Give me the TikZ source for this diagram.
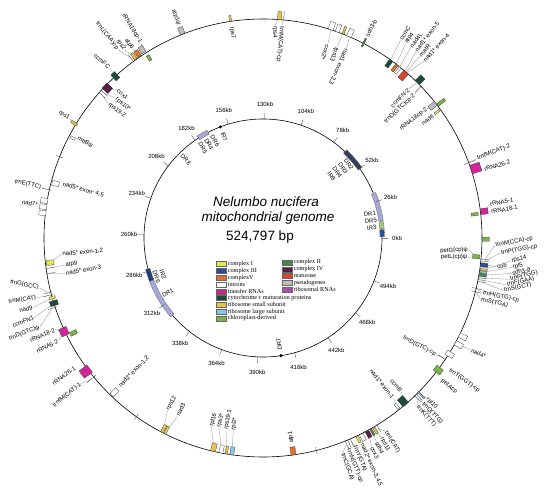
\documentclass[tikz,border=0pt]{standalone}
\usepackage{fontspec}
\setmainfont{Liberation Sans}
\newfontfamily\legendfont{Liberation Serif}
\usetikzlibrary{positioning}

\definecolor{cI}{HTML}{E8E84A}
\definecolor{cII}{HTML}{3F8A46}
\definecolor{cIII}{HTML}{2B4C9B}
\definecolor{cIV}{HTML}{5A1E48}
\definecolor{cV}{HTML}{E2702E}
\definecolor{mat}{HTML}{D4472F}
\definecolor{pseudo}{HTML}{BEBEBE}
\definecolor{trna}{HTML}{C9268C}
\definecolor{rrna}{HTML}{A452A8}
\definecolor{rbox}{HTML}{D3249A}
\definecolor{ccm}{HTML}{1F4A3B}
\definecolor{ssu}{HTML}{E9C24A}
\definecolor{lsu}{HTML}{8CC7E6}
\definecolor{cpd}{HTML}{7BB547}
\definecolor{lav}{HTML}{A8A8D8}
\definecolor{slate}{HTML}{2E3E5C}

\newcommand\genefont{\fontsize{6}{7}\selectfont}
\newcommand\kbfont{\fontsize{6}{6}\selectfont}

\begin{document}
\begin{tikzpicture}[
    x=1pt, y=1pt,
    gene/.style={draw=black!75, line width=0.3pt, inner sep=0pt, outer sep=0pt, minimum width=8pt, minimum height=4pt},
    tickmark/.style={draw=black!75, line width=0.35pt, inner sep=0pt, outer sep=0pt, minimum width=9pt, minimum height=0pt},
    glabel/.style={font=\genefont, inner sep=0.6pt},
    lead/.style={draw=black!45, line width=0.3pt},
    kb/.style={font=\kbfont, inner sep=0pt},
    swatch/.style={draw=black!60, line width=0.3pt, minimum width=10pt, minimum height=5pt, inner sep=0pt},
    legtext/.style={font=\legendfont\fontsize{6.2}{6.2}\selectfont, inner sep=0pt}
]
\useasboundingbox (-263,-262) rectangle (282,238);

% CIRCLES
\draw[line width=0.6pt] (0,0) circle[radius=219];
\draw[line width=0.6pt] (0,0) circle[radius=119];

% TITLE
\node[font=\fontsize{13.5}{13.5}\selectfont\itshape] (title1) at (3,36) {Nelumbo nucifera};
\node[font=\fontsize{13.5}{13.5}\selectfont\itshape] (title2) at (5,20) {mitochondrial genome};
\node[font=\fontsize{13.5}{13.5}\selectfont] (size) at (-3,1) {524,797 bp};

% GENES - TOP
\node[gene, fill=pseudo, minimum width=7pt, minimum height=5pt, rotate=111.5] (atp1psi) at (111.5:223) {};
\node[gene, fill=ssu, minimum width=6pt, minimum height=2pt, rotate=98.5] (rps7) at (98.5:222) {};
\node[gene, fill=ssu, rotate=85.7] (rps4) at (85.7:223) {};
\node[tickmark, rotate=84.6] (trnMcp) at (84.6:223) {};
\node[gene, fill=white, minimum height=5pt, rotate=72] (cox2) at (72:223) {};
\node[gene, fill=white, rotate=70.2] (cox2b) at (70.2:223) {};
\node[gene, fill=ssu, minimum height=2pt, rotate=68.6] (rps13) at (68.6:223) {};
\node[gene, fill=white, minimum height=5pt, rotate=66.9] (nad1b) at (66.9:223) {};
\node[gene, fill=cII, minimum width=9pt, minimum height=1.5pt, rotate=62.7] (sdh3b) at (62.7:220) {};
\node[gene, fill=ccm, rotate=54.2] (ccmC) at (54.2:215) {};
\node[gene, fill=cV, minimum height=3pt, rotate=52.3] (atp4) at (52.3:215) {};
\node[gene, fill=white, minimum height=2.5pt, rotate=51.2] (nad4L) at (51.2:215) {};
\node[gene, fill=mat, minimum width=9pt, minimum height=6pt, rotate=49.2] (matR) at (49.2:214.5) {};
\node[gene, fill=ccm, minimum height=6pt, rotate=45.2] (ccmFN2) at (45.2:223) {};
\node[tickmark, rotate=43.8] (trnDcp2) at (43.8:215) {};
\node[gene, fill=pseudo, minimum height=5pt, rotate=37.9] (rrn18cp2) at (37.9:215) {};
\node[gene, fill=cpd, minimum width=9pt, minimum height=3pt, rotate=37.3] (cpA) at (37.3:224) {};
\node[gene, fill=cI, minimum width=6pt, minimum height=2pt, rotate=35.9] (nad6) at (35.9:215) {};

\node[glabel, anchor=east, rotate=-68.5] (atp1psiL) at (111.5:228) {atp1ψ};
\node[glabel, anchor=west, rotate=-81.5] (rps7L) at (98.5:214) {rps7};
\node[glabel, anchor=west, rotate=-93.3] (rps4L) at (86.7:213) {rps4};
\node[glabel, anchor=west, rotate=-95.1] (trnMcpL) at (84.9:213) {trnM(CAT)-cp};
\node[glabel, anchor=west, rotate=251.5] (cox2L) at (71.5:204) {cox2*};
\node[glabel, anchor=west, rotate=248.8] (rps13L) at (68.8:205) {rps13};
\node[glabel, anchor=west, rotate=246.2] (nad1bL) at (66.2:207) {nad1 exon-2,3};
\node[glabel, anchor=west, rotate=62.7] (sdh3bL) at (62.7:226) {sdh3-b};
\node[glabel, anchor=west, rotate=57] (ccmCL) at (55.2:241) {ccmC};
\node[glabel, anchor=west, rotate=55] (atp4L) at (53.7:241) {atp4};
\node[glabel, anchor=west, rotate=54] (nad4LL) at (52.2:241) {nad4L};
\node[glabel, anchor=west, rotate=52] (nad1e5L) at (50.7:241) {nad1* exon-5};
\node[glabel, anchor=west, rotate=50] (matRL) at (49.2:240) {matR};
\node[glabel, anchor=west, rotate=48] (nad1e4L) at (47.7:239) {nad1* exon-4};
\node[glabel, anchor=east, rotate=45.5] (ccmFN2L) at (45.6:209) {ccmFN-2};
\node[glabel, anchor=east, rotate=43.2] (trnDcp2L) at (43.4:209) {trnD(GTC)cp-2};
\node[glabel, anchor=east, rotate=38] (rrn18cp2L) at (38.2:209) {rRNA18cp-2};
\node[glabel, anchor=east, rotate=35.6] (nad6L) at (35.6:210) {nad6};

% GENES - RIGHT
\node[tickmark, minimum width=12pt, rotate=20.1] (trnfM2) at (20.1:220) {};
\node[gene, fill=rbox, minimum width=10pt, minimum height=9pt, rotate=18.2] (rrn26b) at (18.2:224) {};
\node[gene, fill=rbox, minimum width=7pt, minimum height=6pt, rotate=6.9] (rrn5a) at (6.9:223) {};
\node[gene, fill=cpd, minimum width=7pt, minimum height=3pt, rotate=6.4] (cpB) at (6.4:213) {};
\node[gene, fill=cpd, minimum width=7pt, rotate=-0.3] (cpC) at (-0.3:223) {};
\node[gene, fill=cpd, minimum width=7pt, rotate=-5] (petG) at (-5:214) {};
\node[tickmark, rotate=-5.5] (trnW) at (-5.5:223) {};
\node[tickmark, rotate=-6.0] (trnPcp) at (-6.0:223) {};
\node[gene, fill=cIII, minimum width=7pt, rotate=-7.0] (cob) at (-7.0:223) {};
\node[gene, fill=ssu, minimum width=7pt, minimum height=2pt, rotate=-8.2] (rps14) at (-8.2:223) {};
\node[gene, fill=lsu, minimum width=7pt, minimum height=2pt, rotate=-8.8] (rpl5) at (-8.8:223) {};
\node[gene, fill=cII, minimum width=7pt, minimum height=3pt, rotate=-9.6] (sdh3a) at (-9.6:223) {};
\node[tickmark, rotate=-10.4] (trnP) at (-10.4:223) {};
\node[tickmark, rotate=-10.9] (trnF) at (-10.9:223) {};
\node[tickmark, rotate=-11.4] (trnSgct) at (-11.4:223) {};
\node[tickmark, minimum width=10pt, rotate=-13.3] (trnH) at (-13.3:220) {};
\node[tickmark, minimum width=10pt, rotate=-14.2] (trnStga) at (-14.2:220) {};
\node[gene, fill=white, minimum height=5pt, rotate=-26.3] (nad4a) at (-26.3:223) {};
\node[gene, fill=white, minimum height=5pt, rotate=-28.6] (nad4b) at (-28.6:223) {};
\node[gene, fill=white, minimum height=5pt, rotate=-31.9] (nad4c) at (-31.9:220) {};
\node[tickmark, rotate=-33.7] (trnDcp) at (-33.7:215) {};
\node[gene, fill=cpd, minimum height=6pt, rotate=-37] (trnTcp) at (-37:219.5) {};
\node[gene, fill=lsu, minimum width=9pt, minimum height=1.5pt, rotate=-44.8] (rpl10) at (-44.8:223) {};
\node[tickmark, rotate=-45.5] (trnQ) at (-45.5:223) {};
\node[tickmark, rotate=-46.1] (trnK) at (-46.1:223) {};
\node[gene, fill=ccm, minimum width=9pt, minimum height=7pt, rotate=-49.4] (ccmB) at (-49.4:215) {};
\node[gene, fill=white, minimum width=6pt, minimum height=2.5pt, rotate=-51.5] (nad1a) at (-51.5:215) {};

\node[glabel, anchor=west, rotate=20.2] (trnfM2L) at (20.4:228) {trnfM(CAT)-2};
\node[glabel, anchor=west, rotate=17.4] (rrn26bL) at (17.2:231) {rRNA26-2};
\node[glabel, anchor=west, rotate=12] (rrn5aL) at (8.4:229) {rRNA5-1};
\node[glabel, anchor=west, rotate=10] (rrn18aL) at (6.5:229) {rRNA18-1};
\node[glabel, anchor=east, rotate=2] (petGL) at (-3.3:206) {petG(cp)ψ};
\node[glabel, anchor=east, rotate=0] (petLL) at (-5.4:206) {petL(cp)ψ};
\node[glabel, anchor=west, rotate=10] (trnWL) at (-1.8:232) {trnW(CCA)-cp};
\node[glabel, anchor=west, rotate=10] (trnPcpL) at (-3.6:238) {trnP(TGG)-cp};
\node[glabel, anchor=west, rotate=5] (cobL) at (-6.9:235) {cob};
\node[glabel, anchor=west, rotate=13] (rps14L) at (-5.3:249) {rps14};
\node[glabel, anchor=west, rotate=13] (rpl5L) at (-6.7:251) {rpl5};
\node[glabel, anchor=west, rotate=13] (sdh3aL) at (-8.1:251) {sdh3-a};
\node[glabel, anchor=west, rotate=13] (trnPL) at (-9.5:250) {trnP(TGG)};
\node[glabel, anchor=west, rotate=12] (trnFL) at (-10.9:248) {trnF(GAA)};
\node[glabel, anchor=west, rotate=11] (trnSgctL) at (-12.3:246) {trnS(GCT)};
\node[glabel, anchor=west, rotate=-12] (trnHL) at (-14.0:226) {trnH(GTG)-cp};
\node[glabel, anchor=west, rotate=-13] (trnStgaL) at (-15.8:226) {trnS(TGA)};
\node[glabel, anchor=west, rotate=-25] (nad4sL) at (-28.3:236) {nad4*};
\node[glabel, anchor=east, rotate=-28] (trnDcpL) at (-34:209) {trnD(GTC)-cp};
\node[glabel, anchor=west, rotate=-35] (trnTcpL) at (-35.3:228) {trnT(GGT)-cp};
\node[glabel, anchor=west, rotate=-38] (petAL) at (-38.6:228) {petAcp};
\node[glabel, anchor=west, rotate=-47] (rpl10L) at (-44.3:229) {rpl10};
\node[glabel, anchor=west, rotate=-47] (trnQL) at (-45.9:229) {trnQ(TTG)};
\node[glabel, anchor=west, rotate=-48] (trnKL) at (-47.5:228) {trnK(TTT)};
\node[glabel, anchor=east, rotate=-50] (ccmBL) at (-48:207) {ccmB};
\node[glabel, anchor=east, rotate=-52] (nad1aL) at (-50.9:207) {nad1* exon-1};

% GENES - BOTTOM
\node[tickmark, rotate=-58.7] (trnI) at (-58.7:223) {};
\node[gene, fill=ssu, minimum width=7pt, minimum height=2.5pt, rotate=-59.7] (rps11) at (-59.7:223) {};
\node[gene, fill=cII, minimum width=7pt, minimum height=2pt, rotate=-60.6] (sdh4) at (-60.6:223) {};
\node[gene, fill=cIV, minimum width=7pt, minimum height=4pt, rotate=-61.7] (cox3) at (-61.7:223) {};
\node[gene, fill=white, minimum width=7pt, minimum height=4pt, rotate=-63.4] (nad2b) at (-63.4:223) {};
\node[gene, fill=cI, minimum width=7pt, minimum height=2.5pt, rotate=-64.6] (nad2c) at (-64.6:223) {};
\node[tickmark, rotate=-66.5] (trnY) at (-66.5:223) {};
\node[tickmark, rotate=-67.2] (trnNcp) at (-67.2:223) {};
\node[tickmark, rotate=-67.9] (trnC) at (-67.9:223) {};
\node[tickmark, minimum width=7pt, rotate=-75.9] (mark1) at (-75.9:219) {};
\node[gene, fill=cV, minimum height=5pt, rotate=-82] (atp1) at (-82:215) {};
\node[gene, fill=lsu, minimum height=4pt, rotate=-98.2] (rpl2) at (-98.2:215) {};
\node[gene, fill=ssu, minimum height=2.5pt, rotate=-99.7] (rps19a) at (-99.7:215) {};
\node[gene, fill=white, minimum height=4pt, rotate=-101.1] (rps3) at (-101.1:215) {};
\node[gene, fill=ssu, minimum height=5pt, rotate=-103.2] (rpl16) at (-103.2:215) {};
\node[gene, fill=ssu, minimum height=3pt, rotate=-117.5] (rps12) at (-117.5:215) {};
\node[gene, fill=cI, minimum height=2pt, rotate=-116.6] (nad3) at (-116.6:215) {};
\node[tickmark, minimum width=7pt, rotate=-125.3] (mark2) at (-125.3:219) {};
\node[gene, fill=white, minimum height=5pt, rotate=-133.9] (nad2a) at (-133.9:214) {};

\node[glabel, anchor=west, rotate=-59] (trnIL) at (-57.6:229) {trnI(CAT)};
\node[glabel, anchor=west, rotate=-62] (rps11L) at (-59.3:232) {rps11};
\node[glabel, anchor=west, rotate=-63] (sdh4L) at (-60.9:233) {sdh4};
\node[glabel, anchor=west, rotate=-64] (cox3L) at (-62.5:235) {cox3};
\node[glabel, anchor=west, rotate=-66] (nad2bL) at (-64.3:228) {nad2* exon-3,4,5};
\node[glabel, anchor=west, rotate=-68] (trnYL) at (-66.1:227) {trnY(GTA)};
\node[glabel, anchor=west, rotate=-69] (trnNL) at (-67.9:227) {trnN(GTT)-cp};
\node[glabel, anchor=west, rotate=-70] (trnCL) at (-69.7:229) {trnC(GCA)};
\node[glabel, anchor=west, rotate=98] (atp1L) at (-82:208) {atp1};
\node[glabel, anchor=west, rotate=74.7] (rpl16L) at (-105.3:196) {rpl16};
\node[glabel, anchor=west, rotate=76.9] (rps3L) at (-103.1:195) {rps3*};
\node[glabel, anchor=west, rotate=79.1] (rps19aL) at (-100.9:196) {rps19-1};
\node[glabel, anchor=west, rotate=81.2] (rpl2L) at (-98.8:195) {rpl2*};
\node[glabel, anchor=west, rotate=61] (rps12L) at (-119:197) {rps12};
\node[glabel, anchor=west, rotate=64.4] (nad3L) at (-115.6:198) {nad3};
\node[glabel, anchor=west, rotate=46] (nad2aL) at (-134:207) {nad2* exon-1,2};

% GENES - LEFT
\node[gene, fill=rbox, minimum width=10pt, minimum height=9pt, rotate=-143] (rrn26a) at (-143:222) {};
\node[tickmark, minimum width=12pt, rotate=-140.6] (trnfM1) at (-140.6:222) {};
\node[gene, fill=rbox, minimum width=8pt, minimum height=8pt, rotate=-154.8] (rrn18b) at (-154.8:220) {};
\node[gene, fill=cpd, minimum width=7pt, minimum height=4pt, rotate=-153.4] (cpD) at (-153.4:212) {};
\node[tickmark, rotate=-161.6] (trnDpsi) at (-161.6:222) {};
\node[gene, fill=ccm, minimum height=5pt, rotate=-162.7] (ccmFN1) at (-162.7:219) {};
\node[gene, fill=cI, minimum width=6pt, minimum height=2.5pt, rotate=-164.2] (nad9) at (-164.2:219) {};
\node[tickmark, rotate=-165] (trnMcat) at (-165:222) {};
\node[tickmark, rotate=-165.7] (trnG) at (-165.7:222) {};
\node[tickmark, rotate=-170.6] (nad5c) at (-170.6:215) {};
\node[tickmark, rotate=-172] (atp9) at (-172:215) {};
\node[gene, fill=cI, minimum width=7pt, minimum height=5pt, rotate=-173.4] (nad5a) at (-173.4:214.5) {};
\node[gene, fill=white, minimum width=7pt, minimum height=5pt, rotate=173.5] (nad7a) at (173.5:222) {};
\node[gene, fill=white, minimum width=7pt, minimum height=5pt, rotate=171.9] (nad7b) at (171.9:222) {};
\node[gene, fill=white, minimum width=7pt, minimum height=5pt, rotate=170.3] (nad7c) at (170.3:222) {};
\node[tickmark, rotate=167.3] (trnE) at (167.3:222) {};
\node[gene, fill=white, minimum width=7pt, minimum height=5pt, rotate=165.3] (nad5b) at (165.3:214.5) {};
\node[tickmark, minimum width=7pt, rotate=158.2] (mark3) at (158.2:219) {};
\node[gene, fill=white, minimum width=5pt, minimum height=2.5pt, rotate=152.3] (mttB) at (152.3:215) {};
\node[gene, fill=ssu, minimum width=7pt, minimum height=2.5pt, rotate=148.7] (rps1) at (148.7:221) {};
\node[tickmark, rotate=138.4] (rps192) at (138.4:215) {};
\node[tickmark, rotate=137.6] (rps10) at (137.6:215) {};
\node[gene, fill=cIV, minimum height=7pt, rotate=136.1] (cox1) at (136.1:216) {};
\node[gene, fill=ccm, minimum height=5pt, rotate=132.4] (ccmFC) at (132.4:219) {};
\node[gene, fill=cpd, minimum width=6pt, minimum height=3pt, rotate=122.3] (cpE) at (122.3:213) {};
\node[gene, fill=pseudo, minimum width=7pt, minimum height=5pt, rotate=122.7] (rrn18cp1) at (122.7:224) {};
\node[gene, fill=cV, minimum width=7pt, minimum height=4pt, rotate=124.2] (atp6) at (124.2:223) {};
\node[gene, fill=ssu, minimum width=7pt, minimum height=3pt, rotate=125.4] (rps2) at (125.4:223) {};
\node[tickmark, rotate=126.3] (trnLcp) at (126.3:223) {};

\node[glabel, anchor=east, rotate=35] (rrn26aL) at (-145.3:228) {rRNA26-1};
\node[glabel, anchor=east, rotate=39] (trnfM1L) at (-141.3:233) {trnfM(CAT)-1};
\node[glabel, anchor=east, rotate=24] (rrn18bL) at (-156.2:227) {rRNA18-2};
\node[glabel, anchor=east, rotate=27] (rrn5bL) at (-153.3:229) {rRNA5-2};
\node[glabel, anchor=east, rotate=22] (trnDpsiL) at (-158.3:240) {trnD(GTC)ψ};
\node[glabel, anchor=east, rotate=19] (ccmFN1L) at (-160.8:242) {ccmFN1};
\node[glabel, anchor=east, rotate=12] (nad9L) at (-163.2:240) {nad9};
\node[glabel, anchor=east, rotate=8] (trnMcatL) at (-165.2:234) {trnM(CAT)};
\node[glabel, anchor=east, rotate=-12] (trnGL) at (-167.4:229) {trnG(GCC)};
\node[glabel, anchor=west, rotate=10] (nad5cL) at (-169.9:201) {nad5* exon-3};
\node[glabel, anchor=west, rotate=8] (atp9L) at (-172.2:200) {atp9};
\node[glabel, anchor=west, rotate=5] (nad5aL) at (-175.4:202) {nad5* exon-1,2};
\node[glabel, anchor=east, rotate=-9] (nad7L) at (171.6:227) {nad7*};
\node[glabel, anchor=east, rotate=-13] (trnEL) at (167.2:227) {trnE(TTC)};
\node[glabel, anchor=west, rotate=-15] (nad5bL) at (165:208) {nad5* exon- 4,5};
\node[glabel, anchor=west, rotate=-28] (mttBL) at (151.8:211) {mttBψ};
\node[glabel, anchor=east, rotate=-32] (rps1L) at (148.3:227) {rps1};
\node[glabel, anchor=west, rotate=-40] (cox1L) at (134.6:208) {cox1};
\node[glabel, anchor=west, rotate=-40] (rps10L) at (136.5:203) {rps10*};
\node[glabel, anchor=west, rotate=-38] (rps192L) at (139:205) {rps19-2};
\node[glabel, anchor=east, rotate=-40] (ccmFCL) at (132:229) {ccmFC};
\node[glabel, anchor=east, rotate=-52.4] (trnLcpL) at (127.6:238) {trnL(CAA)cp};
\node[glabel, anchor=east, rotate=-53.7] (rps2L) at (126.3:233) {rps2};
\node[glabel, anchor=east, rotate=-55.4] (atp6L) at (124.6:229) {atp6};
\node[glabel, anchor=east, rotate=-58] (rrn18cp1L) at (122:230) {rRNA18cp-1};

% LEADERS
\draw[lead] (rps4) -- (rps4L.west);
\draw[lead] (trnMcp) -- (trnMcpL.west);
\draw[lead] (cox2) -- (cox2L.west);
\draw[lead] (rps13) -- (rps13L.west);
\draw[lead] (nad1b) -- (nad1bL.west);
\draw[lead] (ccmC) -- (ccmCL.west);
\draw[lead] (atp4) -- (atp4L.west);
\draw[lead] (nad4L) -- (nad4LL.west);
\draw[lead] (matR) -- (nad1e5L.west);
\draw[lead] (matR) -- (matRL.west);
\draw[lead] (matR) -- (nad1e4L.west);
\draw[lead] (ccmFN2) -- (ccmFN2L.east);
\draw[lead] (trnDcp2) -- (trnDcp2L.east);
\draw[lead] (rrn18cp2) -- (rrn18cp2L.east);
\draw[lead] (nad6) -- (nad6L.east);
\draw[lead] (trnfM2) -- (trnfM2L.west);
\draw[lead] (rrn5a) -- (rrn5aL.west);
\draw[lead] (rrn5a) -- (rrn18aL.west);
\draw[lead] (petG) -- (petGL.east);
\draw[lead] (petG) -- (petLL.east);
\draw[lead] (trnW) -- (trnWL.west);
\draw[lead] (trnPcp) -- (trnPcpL.west);
\draw[lead] (cob) -- (cobL.west);
\draw[lead] (rps14) -- (rps14L.west);
\draw[lead] (rpl5) -- (rpl5L.west);
\draw[lead] (sdh3a) -- (sdh3aL.west);
\draw[lead] (trnP) -- (trnPL.west);
\draw[lead] (trnF) -- (trnFL.west);
\draw[lead] (trnSgct) -- (trnSgctL.west);
\draw[lead] (trnH) -- (trnHL.west);
\draw[lead] (trnStga) -- (trnStgaL.west);
\draw[lead] (nad4b) -- (nad4sL.west);
\draw[lead] (trnDcp) -- (trnDcpL.east);
\draw[lead] (rpl10) -- (rpl10L.west);
\draw[lead] (trnQ) -- (trnQL.west);
\draw[lead] (trnK) -- (trnKL.west);
\draw[lead] (ccmB) -- (ccmBL.east);
\draw[lead] (nad1a) -- (nad1aL.east);
\draw[lead] (trnI) -- (trnIL.west);
\draw[lead] (rps11) -- (rps11L.west);
\draw[lead] (sdh4) -- (sdh4L.west);
\draw[lead] (cox3) -- (cox3L.west);
\draw[lead] (nad2b) -- (nad2bL.west);
\draw[lead] (trnY) -- (trnYL.west);
\draw[lead] (trnNcp) -- (trnNL.west);
\draw[lead] (trnC) -- (trnCL.west);
\draw[lead] (rpl16) -- (rpl16L.west);
\draw[lead] (rps3) -- (rps3L.west);
\draw[lead] (rps19a) -- (rps19aL.west);
\draw[lead] (rpl2) -- (rpl2L.west);
\draw[lead] (rps12) -- (rps12L.west);
\draw[lead] (nad3) -- (nad3L.west);
\draw[lead] (trnfM1) -- (trnfM1L.east);
\draw[lead] (rrn18b) -- (rrn18bL.east);
\draw[lead] (rrn18b) -- (rrn5bL.east);
\draw[lead] (trnDpsi) -- (trnDpsiL.east);
\draw[lead] (ccmFN1) -- (ccmFN1L.east);
\draw[lead] (nad9) -- (nad9L.east);
\draw[lead] (trnMcat) -- (trnMcatL.east);
\draw[lead] (trnG) -- (trnGL.east);
\draw[lead] (nad5c) -- (nad5cL.west);
\draw[lead] (atp9) -- (atp9L.west);
\draw[lead] (nad5a) -- (nad5aL.west);
\draw[lead] (nad7b) -- (nad7L.east);
\draw[lead] (trnE) -- (trnEL.east);
\draw[lead] (mttB) -- (mttBL.west);
\draw[lead] (rps1) -- (rps1L.east);
\draw[lead] (cox1) -- (cox1L.west);
\draw[lead] (rps10) -- (rps10L.west);
\draw[lead] (rps192) -- (rps192L.west);
\draw[lead] (ccmFC) -- (ccmFCL.east);
\draw[lead] (trnLcp) -- (trnLcpL.east);
\draw[lead] (rps2) -- (rps2L.east);
\draw[lead] (atp6) -- (atp6L.east);
\draw[lead] (rrn18cp1) -- (rrn18cp1L.east);

% INNER CIRCLE: REPEATS
\filldraw[fill=cIII, draw=black!60, line width=0.3pt] (0.6:117) arc[start angle=0.6, end angle=4, radius=117] -- (4:121.5) arc[start angle=4, end angle=0.6, radius=121.5] -- cycle;
\filldraw[fill=cpd!70, draw=black!60, line width=0.3pt] (4.4:117) arc[start angle=4.4, end angle=7.8, radius=117] -- (7.8:121.5) arc[start angle=7.8, end angle=4.4, radius=121.5] -- cycle;
\filldraw[fill=lav, draw=black!60, line width=0.3pt] (8.3:117) arc[start angle=8.3, end angle=22, radius=117] -- (22:121.5) arc[start angle=22, end angle=8.3, radius=121.5] -- cycle;
\filldraw[fill=slate, draw=black!60, line width=0.3pt] (35.5:117) arc[start angle=35.5, end angle=46.5, radius=117] -- (46.5:121.5) arc[start angle=46.5, end angle=35.5, radius=121.5] -- cycle;
\filldraw[fill=lav, draw=black!60, line width=0.3pt] (117.5:117) arc[start angle=117.5, end angle=122.8, radius=117] -- (122.8:121.5) arc[start angle=122.8, end angle=117.5, radius=121.5] -- cycle;
\filldraw[fill=cIII!80!black, draw=black!60, line width=0.3pt] (195:117) arc[start angle=195, end angle=201, radius=117] -- (201:121.5) arc[start angle=201, end angle=195, radius=121.5] -- cycle;
\filldraw[fill=lav, draw=black!60, line width=0.3pt] (201:117) arc[start angle=201, end angle=220.5, radius=117] -- (220.5:121.5) arc[start angle=220.5, end angle=201, radius=121.5] -- cycle;
\fill (111:119) circle[radius=1.7];
\fill (278.7:119) circle[radius=1.7];

\node[glabel, align=center, anchor=east, rotate=8] (ir3L) at (9:116) {DR1\\DR5\\IR3};
\node[glabel, align=center, anchor=north, rotate=-55] (dr2L) at (40.5:116) {DR2\\DR3\\DR4\\IR8};
\node[glabel, align=left, anchor=west, rotate=-60] (dr6L) at (120:115) {DR6\\DR4\\DR5};
\node[glabel, anchor=west, rotate=-69] (ir7L) at (111:114) {IR7};
\node[glabel, rotate=-45] (dr8L) at (134.6:110) {DR8};
\node[glabel, align=center, rotate=-70] (ir2L) at (200:110) {IR2\\DR6};
\node[glabel, rotate=30] (dr1L) at (210:110) {DR1};
\node[glabel, anchor=west, rotate=98.7] (dr7L) at (278.7:114) {DR7};

% INNER CIRCLE: SCALE
\foreach \k [evaluate=\k as \ang using \k*0.685979] in {0,26,...,494} {
  \node[tickmark, minimum width=6pt, rotate=\ang] (t\k) at (\ang:122) {};
  \node[kb] (kb\k) at (\ang:134) {\k kb};
}

% LEGEND
\node[swatch, fill=cI] (s1) at (-42,-26) {};
\node[swatch, fill=cIII, below=1.5pt of s1] (s2) {};
\node[swatch, fill=cV, below=1.5pt of s2] (s3) {};
\node[swatch, fill=white, below=1.5pt of s3] (s4) {};
\node[swatch, fill=trna, below=1.5pt of s4] (s5) {};
\node[swatch, fill=ccm, below=1.5pt of s5] (s6) {};
\node[swatch, fill=ssu, below=1.5pt of s6] (s7) {};
\node[swatch, fill=lsu, below=1.5pt of s7] (s8) {};
\node[swatch, fill=cpd, below=1.5pt of s8] (s9) {};
\node[swatch, fill=cII] (s10) at (24,-24.5) {};
\node[swatch, fill=cIV, below=1.5pt of s10] (s11) {};
\node[swatch, fill=mat, below=1.5pt of s11] (s12) {};
\node[swatch, fill=pseudo, below=1.5pt of s12] (s13) {};
\node[swatch, fill=rrna, below=1.5pt of s13] (s14) {};

\node[legtext, right=1.5pt of s1] (l1) {complex I};
\node[legtext, right=1.5pt of s2] (l2) {complex III};
\node[legtext, right=1.5pt of s3] (l3) {complexV};
\node[legtext, right=1.5pt of s4] (l4) {introns};
\node[legtext, right=1.5pt of s5] (l5) {transfer RNAs};
\node[legtext, right=1.5pt of s6] (l6) {cytochrome c maturation proteins};
\node[legtext, right=1.5pt of s7] (l7) {ribosome small subunit};
\node[legtext, right=1.5pt of s8] (l8) {ribosome large subunit};
\node[legtext, right=1.5pt of s9] (l9) {chloroplast-derived};
\node[legtext, right=1.5pt of s10] (l10) {complex II};
\node[legtext, right=1.5pt of s11] (l11) {complex IV};
\node[legtext, right=1.5pt of s12] (l12) {maturase};
\node[legtext, right=1.5pt of s13] (l13) {pseudogenes};
\node[legtext, right=1.5pt of s14] (l14) {ribosomal RNAs};

\end{tikzpicture}
\end{document}
